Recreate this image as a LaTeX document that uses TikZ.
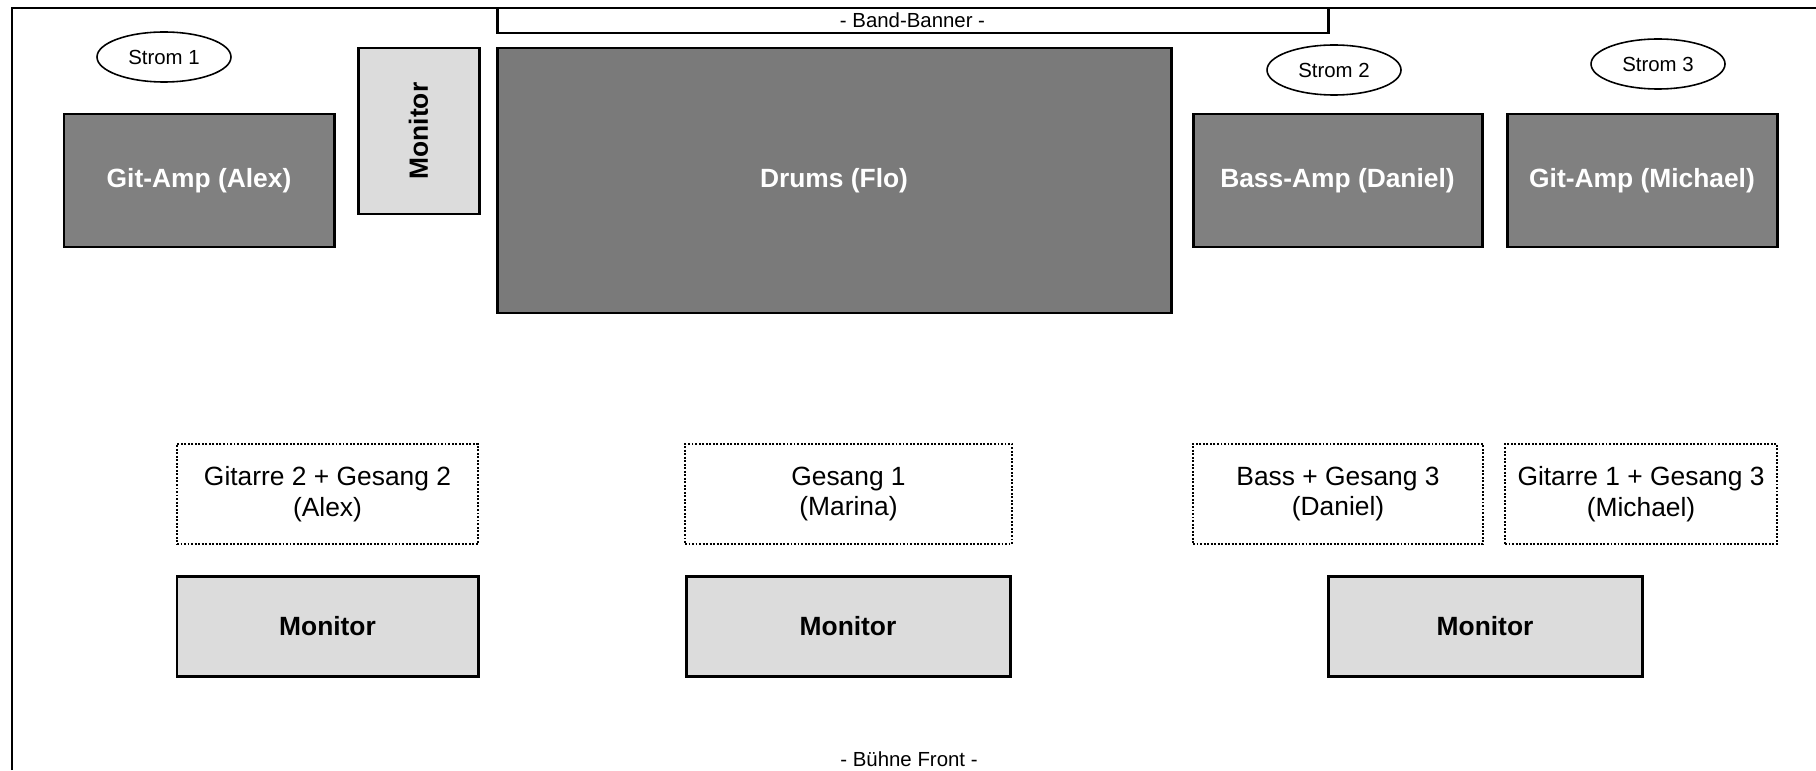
\documentclass[tikz,border=0pt]{standalone}
\usepackage{fontspec}
\setmainfont{Liberation Sans}
\usetikzlibrary{shapes.geometric}
\definecolor{ampgray}{RGB}{128,128,128}
\definecolor{drumgray}{RGB}{122,122,122}
\definecolor{mongray}{RGB}{220,220,220}
\tikzset{
  sz/.style 2 args={minimum width=#1*0.01cm, minimum height=#2*0.01cm},
  base/.style={draw, line width=0.85pt, inner sep=0pt, outer sep=0pt, align=center,
    font=\fontsize{7.5pt}{8.8pt}\selectfont},
  amp/.style={base, fill=ampgray, text=white, font=\fontsize{7.5pt}{8.8pt}\selectfont\bfseries},
  drumbox/.style={amp, fill=drumgray},
  monbox/.style={base, fill=mongray, font=\fontsize{7.5pt}{8.8pt}\selectfont\bfseries},
  player/.style={base, line width=0.8pt, dash pattern=on 0.55pt off 0.45pt},
  strom/.style={ellipse, draw, line width=0.45pt, inner sep=0pt, font=\fontsize{5.8pt}{7pt}\selectfont},
  banner/.style={base, font=\fontsize{5.8pt}{7pt}\selectfont},
  frame/.style={line width=0.85pt},
  lbl/.style={inner sep=0pt, font=\fontsize{5.8pt}{7pt}\selectfont}
}
\begin{document}
\begin{tikzpicture}[x=0.01cm, y=-0.01cm]
\useasboundingbox[fill=white] (0,0) rectangle (1816,770);
% stage frame
\coordinate (fbl) at (12,770);
\coordinate (ftl) at (12,8);
\coordinate (ftr) at (1816,8);
\draw[frame] (fbl) -- (ftl) -- (ftr);
% banner
\node[banner, sz={831}{25}] (banner) at (912.5,20.5) {- Band-Banner -};
% power
\node[strom, sz={134}{50}] (strom1) at (164,57) {Strom 1};
\node[strom, sz={134}{50}] (strom2) at (1334,70) {Strom 2};
\node[strom, sz={134}{50}] (strom3) at (1658,64) {Strom 3};
% amps and drums
\node[amp, sz={270}{133}] (ampalex) at (199,180.5) {Git-Amp (Alex)};
\node[monbox, sz={121}{166}] (monside) at (418.5,131) {\rotatebox{90}{Monitor}};
\node[drumbox, sz={674}{265}] (drums) at (834,180.5) {Drums (Flo)};
\node[amp, sz={289}{133}] (ampdaniel) at (1337.5,180.5) {Bass-Amp (Daniel)};
\node[amp, sz={270}{133}] (ampmichael) at (1642,180.5) {Git-Amp (Michael)};
% players
\node[player, sz={301}{100}] (palex) at (327.5,494) {Gitarre 2 + Gesang 2\\(Alex)};
\node[player, sz={327}{100}] (pmarina) at (848.5,494) {Gesang 1\\(Marina)};
\node[player, sz={290}{100}] (pdaniel) at (1338,494) {Bass + Gesang 3\\(Daniel)};
\node[player, sz={272}{100}] (pmichael) at (1641,494) {Gitarre 1 + Gesang 3\\(Michael)};
% monitors
\node[monbox, sz={301}{100}] (mon1) at (327.5,626) {Monitor};
\node[monbox, sz={324}{100}] (mon2) at (848,626) {Monitor};
\node[monbox, sz={314}{100}] (mon3) at (1485,626) {Monitor};
% front
\node[lbl] (front) at (909,759) {- Bühne Front -};
\end{tikzpicture}
\end{document}
